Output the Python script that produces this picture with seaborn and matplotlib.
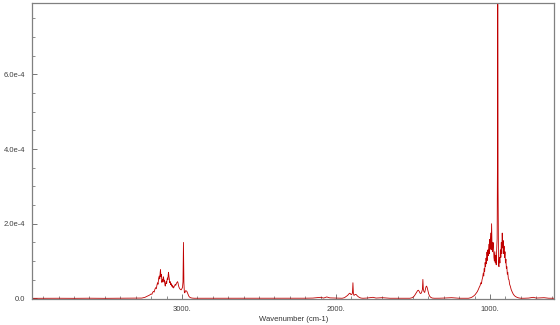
import numpy as np
import pandas as pd
import matplotlib
matplotlib.use("Agg")
import matplotlib.pyplot as plt
import seaborn as sns
from matplotlib.ticker import FixedLocator, MultipleLocator

# Spectrum: wavenumber (cm-1) and absorbance in units of 1e-5
baseline_left_wn = [3973, 3800, 3700, 3600, 3500, 3400, 3300, 3280]
baseline_left_a = [0.03, 0.05, 0.03, 0.06, 0.03, 0.05, 0.05, 0.08]

band1_wn = [3260, 3240, 3225, 3210, 3200, 3195, 3190, 3185, 3180, 3175, 3170, 3166,
            3162, 3158, 3155, 3151, 3147, 3144, 3141, 3139, 3136, 3133, 3130, 3127,
            3124, 3121, 3119, 3116, 3113, 3110, 3108, 3105, 3102, 3099, 3097, 3094,
            3091, 3089, 3087, 3084, 3081, 3079, 3076, 3073, 3070, 3067, 3064, 3061,
            3058, 3054, 3050, 3046, 3043, 3040, 3036, 3032, 3028, 3025, 3022, 3018,
            3014, 3010, 3005, 3000, 2996, 2993, 2990, 2987, 2984, 2981, 2978, 2975,
            2971, 2968, 2964, 2960, 2955, 2950, 2944, 2935, 2920]
band1_a = [0.1, 0.3, 0.6, 0.9, 1.2, 1.1, 1.6, 1.9, 1.7, 2.5, 2.9, 2.6,
           3.6, 4.2, 3.8, 5.4, 6.0, 5.2, 7.0, 7.7, 5.8, 6.4, 4.3, 5.0,
           4.6, 5.8, 5.6, 4.4, 4.9, 3.6, 3.3, 4.1, 4.6, 4.0, 4.8, 5.5,
           5.0, 6.3, 7.0, 5.8, 5.1, 4.2, 4.5, 3.7, 4.0, 3.3, 3.6, 3.0,
           3.3, 2.8, 3.2, 3.5, 3.8, 3.5, 4.0, 4.3, 4.5, 4.1, 3.4, 2.9,
           2.6, 2.4, 2.3, 2.6, 3.0, 4.5, 15.0, 4.2, 1.6, 1.5, 1.9, 2.1,
           2.0, 1.9, 1.5, 1.1, 0.6, 0.35, 0.2, 0.1, 0.05]

mid1_wn = [2900, 2800, 2700, 2600, 2500, 2400, 2300, 2200, 2150, 2100, 2080, 2060,
           2040, 2000, 1980]
mid1_a = [0.05, 0.04, 0.03, 0.05, 0.04, 0.03, 0.05, 0.06, 0.1, 0.3, 0.1, 0.4,
          0.15, 0.1, 0.08]

band2_wn = [1960, 1945, 1935, 1925, 1918, 1912, 1907, 1902, 1897, 1893, 1890, 1887,
            1883, 1878, 1873, 1868, 1862, 1855, 1847, 1838, 1825]
band2_a = [0.05, 0.2, 0.5, 0.8, 1.1, 1.4, 1.3, 1.0, 1.1, 1.5, 4.2, 1.3,
           0.8, 1.0, 1.1, 1.0, 0.7, 0.45, 0.25, 0.1, 0.05]

mid2_wn = [1800, 1760, 1740, 1700, 1650, 1600, 1560]
mid2_a = [0.1, 0.3, 0.1, 0.2, 0.05, 0.05, 0.06]

band3_wn = [1520, 1505, 1495, 1488, 1482, 1476, 1470, 1465, 1460, 1454, 1449, 1444,
            1439, 1436, 1433, 1429, 1424, 1420, 1416, 1412, 1408, 1403, 1398, 1392,
            1385, 1375, 1360]
band3_a = [0.05, 0.2, 0.5, 0.9, 1.3, 1.7, 2.1, 2.2, 1.9, 1.4, 1.3, 1.7,
           2.4, 5.1, 2.5, 1.8, 1.6, 2.4, 3.1, 3.3, 2.9, 2.0, 1.2, 0.6,
           0.3, 0.1, 0.05]

mid3_wn = [1330, 1300, 1250, 1200, 1160]
mid3_a = [0.06, 0.1, 0.2, 0.05, 0.05]

band4_wn = [1140, 1125, 1115, 1105, 1097, 1090, 1083, 1076, 1070, 1065, 1060, 1056,
            1052, 1048, 1044, 1041, 1038, 1035, 1032, 1029, 1026, 1023, 1020, 1017,
            1014, 1011, 1008, 1005, 1002, 999, 996, 993, 990, 987, 984, 981,
            978, 975, 972, 969, 966, 963, 960, 957, 954, 952, 950, 948,
            945, 942, 939, 936, 933, 930, 927, 924, 921, 918, 915, 912,
            909, 906, 903, 900, 897, 894, 891, 888, 885, 881, 877, 873,
            868, 863, 857, 850, 843, 835, 825, 815, 800]
band4_a = [0.05, 0.2, 0.4, 0.7, 1.0, 1.4, 1.8, 2.4, 3.0, 3.4, 4.2, 3.9,
           5.0, 5.6, 6.8, 6.0, 8.0, 7.2, 9.6, 8.5, 10.8, 9.3, 12.4, 10.2,
           13.0, 11.5, 14.5, 12.0, 15.8, 13.4, 17.5, 13.0, 20.0, 14.0, 12.5, 15.0,
           14.6, 11.0, 10.0, 12.5, 9.5, 11.5, 9.0, 13.0, 16.0, 36.0, 120.0, 30.0,
           9.0, 8.5, 11.0, 9.5, 13.0, 11.0, 15.0, 12.0, 17.5, 13.5, 15.5, 12.0,
           14.0, 11.0, 12.5, 9.5, 10.5, 8.0, 8.5, 6.5, 7.0, 5.2, 5.0, 3.8,
           3.2, 2.4, 1.8, 1.2, 0.8, 0.5, 0.3, 0.15, 0.05]

baseline_right_wn = [780, 750, 720, 700, 650, 620, 583]
baseline_right_a = [0.05, 0.1, 0.3, 0.1, 0.2, 0.06, 0.05]

x_major = [3000, 2000, 1000]
x_labels = ["3000.", "2000.", "1000."]
y_major = [0.0, 2.0e-4, 4.0e-4, 6.0e-4]
y_labels = ["0.0", "2.0e-4", "4.0e-4", "6.0e-4"]
x_title = "Wavenumber (cm-1)"

wn = (baseline_left_wn + band1_wn + mid1_wn + band2_wn + mid2_wn + band3_wn
      + mid3_wn + band4_wn + baseline_right_wn)
ab = (baseline_left_a + band1_a + mid1_a + band2_a + mid2_a + band3_a
      + mid3_a + band4_a + baseline_right_a)
df = pd.DataFrame({"wn": wn, "abs": np.array(ab) * 1e-5})

sns.set_style("white")
plt.rcParams["font.family"] = ["Liberation Sans", "DejaVu Sans"]

fig = plt.figure(figsize=(5.6, 3.25), dpi=100)
ax = fig.add_axes([32 / 560, 1 - 299 / 325, (554.3 - 32) / 560, (299 - 3.3) / 325])

sns.lineplot(data=df, x="wn", y="abs", ax=ax, sort=False, estimator=None,
             color="#c00000", linewidth=0.6)

ax.set_xlim(3973, 583)
ax.set_ylim(-1.5e-6, 7.9e-4)

ax.xaxis.set_major_locator(FixedLocator(x_major))
ax.set_xticklabels(x_labels)
ax.xaxis.set_minor_locator(MultipleLocator(100))
ax.yaxis.set_major_locator(FixedLocator(y_major))
ax.set_yticklabels(y_labels)
ax.yaxis.set_minor_locator(MultipleLocator(0.5e-4))

ax.tick_params(axis="both", which="major", direction="in", length=3.5, width=0.6,
               color="#606060", labelsize=5.5, labelcolor="#404040", pad=5)
ax.tick_params(axis="both", which="minor", direction="in", length=2, width=0.5,
               color="#606060")
ax.tick_params(axis="x", which="both", bottom=True, top=False)
ax.tick_params(axis="y", which="both", left=True, right=False)

for s in ax.spines.values():
    s.set_color("#808080")
    s.set_linewidth(0.9)

ax.set_xlabel(x_title, fontsize=5.5, color="#333333", labelpad=2)
ax.set_ylabel("")

fig.savefig("out.png", dpi=100)
